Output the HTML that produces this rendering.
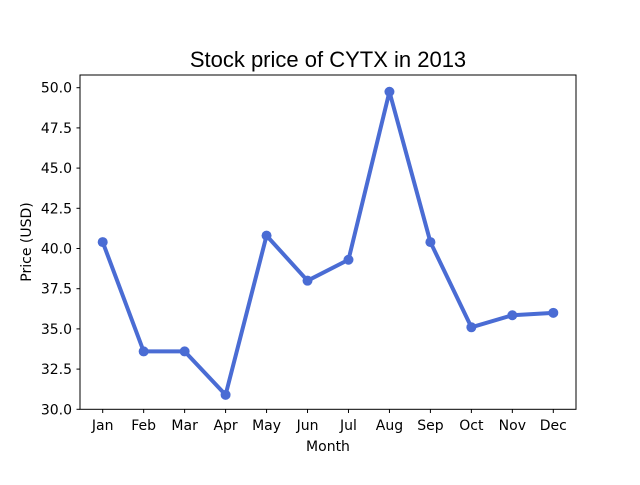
<!DOCTYPE html>
<html><head><meta charset="utf-8"><style>
body{margin:0;background:#fff;}
svg text{font-family:"DejaVu Sans","Liberation Sans",sans-serif;fill:#000;}
</style></head><body>
<svg width="640" height="480" viewBox="0 0 640 480" xmlns="http://www.w3.org/2000/svg">
<rect width="640" height="480" fill="#fff"/>
<text x="328" y="67" font-size="22" text-anchor="middle" style="font-family:'Liberation Sans',sans-serif">Stock price of CYTX in 2013</text>
<g id="yt"></g><g id="xt"></g><g id="series"></g>
<rect x="80" y="75" width="496" height="334.3" fill="none" stroke="#000" stroke-width="1"/>
<text x="328" y="451" font-size="14" text-anchor="middle">Month</text>
<text transform="translate(31,242) rotate(-90)" font-size="14" text-anchor="middle">Price (USD)</text>
</svg>
<script>
const months=["Jan","Feb","Mar","Apr","May","Jun","Jul","Aug","Sep","Oct","Nov","Dec"];
const prices=[40.4,33.6,33.6,30.9,40.8,38.0,39.3,49.75,40.4,35.1,35.85,36.0];
const yTicks=[30.0,32.5,35.0,37.5,40.0,42.5,45.0,47.5,50.0];
const NS="http://www.w3.org/2000/svg";
const yMin=30,yMax=50.79,yTop=75,yBot=409.3;
function y(v){return yBot-(v-yMin)/(yMax-yMin)*(yBot-yTop);}
function x(i){return 102.7+i*(553.3-102.7)/(months.length-1);}
function mk(t,a,p){const e=document.createElementNS(NS,t);for(const k in a)e.setAttribute(k,a[k]);p.appendChild(e);return e;}
const yt=document.getElementById('yt'),xt=document.getElementById('xt'),sg=document.getElementById('series');
yTicks.forEach(v=>{
 const l=mk('line',{x1:76.5,x2:80,y1:y(v),y2:y(v),stroke:'#000'},yt);
 
 
 const t=mk('text',{x:72,y:y(v)+5,'font-size':14,'text-anchor':'end'},yt);
 t.textContent=v.toFixed(1);
 
 
});
months.forEach((m,i)=>{
 const l=mk('line',{x1:x(i),x2:x(i),y1:409.3,y2:413,stroke:'#000'},xt);
 
 
 const t=mk('text',{x:x(i),y:430,'font-size':14,'text-anchor':'middle'},xt);
 t.textContent=m;
 
 
});
const pl=mk('polyline',{points:prices.map((v,i)=>x(i)+','+y(v)).join(' '),fill:'none',stroke:'#4a6cd4','stroke-width':4,'stroke-linejoin':'round'},sg);


prices.forEach((v,i)=>{
 const c=mk('circle',{cx:x(i),cy:y(v),r:5,fill:'#4a6cd4'},sg);
 
 
});
</script>
</body></html>
